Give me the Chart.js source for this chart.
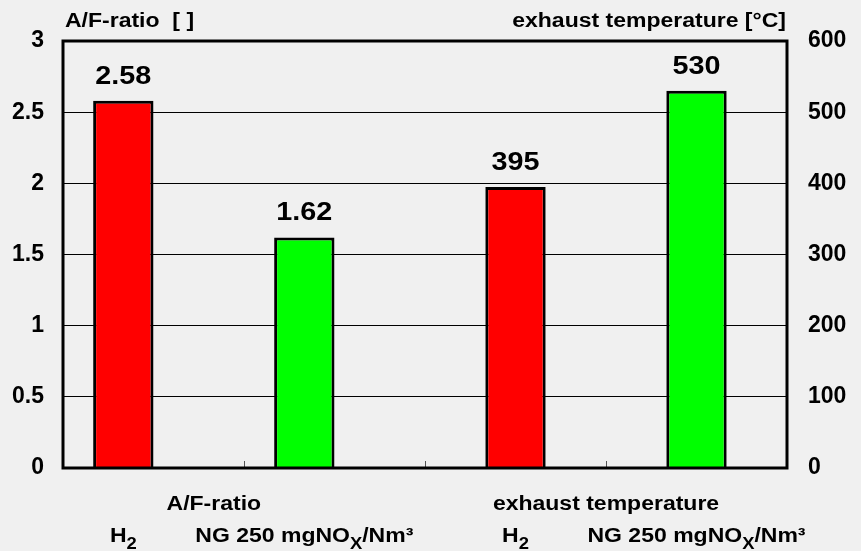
<!DOCTYPE html>
<html lang="en">
<head>
  <meta charset="UTF-8" />
  <title>A/F-ratio and exhaust temperature</title>
  <script src="https://cdn.jsdelivr.net/npm/chart.js"></script>
  <style>
    html, body { margin: 0; padding: 0; background: #f0f0f0; }
  </style>
</head>
<body>
  <canvas id="chart" width="861" height="551"></canvas>

  <script>
    // "_" marks the next character as a subscript
    const categories = ['H_2', 'NG 250 mgNO_X/Nm³', 'H_2', 'NG 250 mgNO_X/Nm³'];
    const groupLabels = ['A/F-ratio', 'exhaust temperature'];
    const afRatio = [2.58, 1.62, null, null];
    const exhaustTemp = [null, null, 395, 530];
    const leftTicks = [0, 0.5, 1, 1.5, 2, 2.5, 3];
    const rightTicks = [0, 100, 200, 300, 400, 500, 600];
    const barColors = ['#ff0000', '#00ff00', '#ff0000', '#00ff00'];

    const FONT = 'Arial, "Liberation Sans", sans-serif';
    const STRETCH = 1.15;

    // draw bold text with optional subscripts, slightly widened like the original
    function drawRich(ctx, text, x, baseline, size, align) {
      const parts = [];
      for (let i = 0; i < text.length; i++) {
        if (text[i] === '_' && i + 1 < text.length) {
          parts.push({ s: text[i + 1], sub: true });
          i++;
        } else if (parts.length && !parts[parts.length - 1].sub) {
          parts[parts.length - 1].s += text[i];
        } else {
          parts.push({ s: text[i], sub: false });
        }
      }
      const mainFont = `bold ${size}px ${FONT}`;
      const subFont = `bold ${Math.round(size * 0.8)}px ${FONT}`;
      let total = 0;
      parts.forEach(p => {
        ctx.font = p.sub ? subFont : mainFont;
        p.w = ctx.measureText(p.s).width;
        total += p.w;
      });
      ctx.save();
      ctx.translate(x, baseline);
      ctx.scale(STRETCH, 1);
      let x0 = align === 'center' ? -total / 2 : align === 'right' ? -total : 0;
      ctx.textAlign = 'left';
      ctx.textBaseline = 'alphabetic';
      ctx.fillStyle = '#000';
      parts.forEach(p => {
        ctx.font = p.sub ? subFont : mainFont;
        ctx.fillText(p.s, x0, p.sub ? size * 0.36 : 0);
        x0 += p.w;
      });
      ctx.restore();
    }

    const decorations = {
      id: 'decorations',
      afterDatasetsDraw(chart) {
        const ctx = chart.ctx;
        const { left, right, top, bottom } = chart.chartArea;
        const xScale = chart.scales.x;

        // small inner tick marks between categories
        ctx.save();
        ctx.strokeStyle = '#555';
        ctx.lineWidth = 1;
        for (let i = 0; i < categories.length - 1; i++) {
          const x = Math.round((xScale.getPixelForValue(i) + xScale.getPixelForValue(i + 1)) / 2) + 0.5;
          ctx.beginPath();
          ctx.moveTo(x, bottom - 7);
          ctx.lineTo(x, bottom);
          ctx.stroke();
        }
        // plot frame
        ctx.strokeStyle = '#000';
        ctx.lineWidth = 3;
        ctx.strokeRect(left, top, right - left, bottom - top);
        ctx.restore();

        // value labels above bars
        chart.data.datasets.forEach((ds, di) => {
          const meta = chart.getDatasetMeta(di);
          meta.data.forEach((bar, i) => {
            if (ds.data[i] === null) return;
            drawRich(ctx, String(ds.data[i]), bar.x, bar.y - 17, 25, 'center');
          });
        });

        // axis titles
        drawRich(ctx, 'A/F-ratio  [ ]', left + 2, 27, 20, 'left');
        drawRich(ctx, 'exhaust temperature [°C]', right - 1, 27, 20, 'right');

        // category labels, drawn at the bars
        const barX = categories.map((c, i) => {
          const di = afRatio[i] !== null ? 0 : 1;
          return chart.getDatasetMeta(di).data[i].x;
        });
        groupLabels.forEach((g, gi) => {
          drawRich(ctx, g, (barX[gi * 2] + barX[gi * 2 + 1]) / 2, 510, 20, 'center');
        });
        categories.forEach((c, i) => {
          drawRich(ctx, c, barX[i], 542, 20, 'center');
        });
      }
    };

    new Chart(document.getElementById('chart'), {
      type: 'bar',
      data: {
        labels: categories,
        datasets: [
          {
            label: 'A/F-ratio',
            data: afRatio,
            yAxisID: 'yL',
            backgroundColor: barColors,
            borderColor: '#000',
            borderWidth: 3,
            categoryPercentage: 0.667,
            barPercentage: 1
          },
          {
            label: 'exhaust temperature',
            data: exhaustTemp,
            yAxisID: 'yR',
            backgroundColor: barColors,
            borderColor: '#000',
            borderWidth: 3,
            skipNull: true,
            categoryPercentage: 0.667,
            barPercentage: 0.5
          }
        ]
      },
      options: {
        responsive: false,
        devicePixelRatio: 1,
        animation: false,
        layout: { padding: { top: 41 } },
        plugins: {
          legend: { display: false },
          tooltip: { enabled: false }
        },
        scales: {
          x: {
            ticks: { display: false },
            grid: { display: false },
            border: { display: false },
            afterFit: s => { s.height = 83; }
          },
          yL: {
            position: 'left',
            min: 0,
            max: 3,
            afterBuildTicks: s => { s.ticks = leftTicks.map(v => ({ value: v })); },
            ticks: {
              color: '#000',
              padding: 19,
              font: { family: FONT, size: 23, weight: 'bold' },
              callback: v => String(v)
            },
            grid: { color: '#000', lineWidth: 1, drawTicks: false },
            border: { display: false },
            afterFit: s => { s.width = 63; }
          },
          yR: {
            position: 'right',
            min: 0,
            max: 600,
            afterBuildTicks: s => { s.ticks = rightTicks.map(v => ({ value: v })); },
            ticks: {
              color: '#000',
              padding: 21,
              font: { family: FONT, size: 23, weight: 'bold' },
              callback: v => String(v)
            },
            grid: { drawOnChartArea: false, drawTicks: false },
            border: { display: false },
            afterFit: s => { s.width = 74; }
          }
        }
      },
      plugins: [decorations]
    });
  </script>
</body>
</html>
